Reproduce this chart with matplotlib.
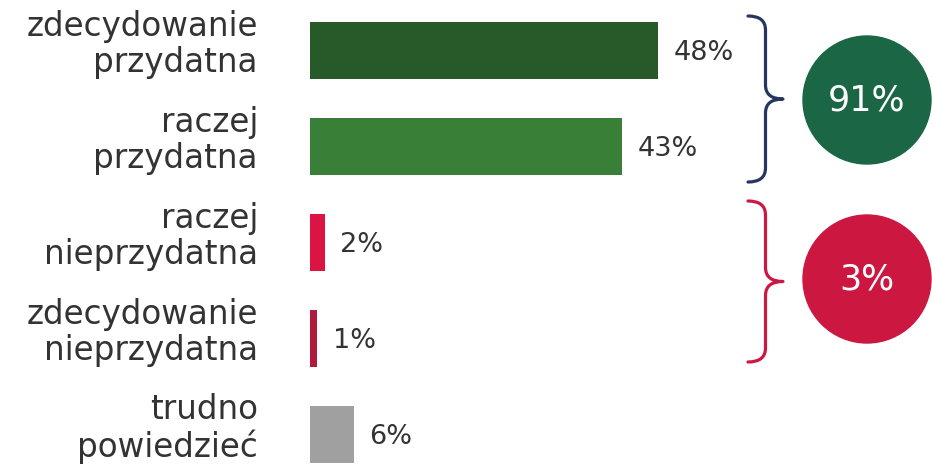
import matplotlib.pyplot as plt
from matplotlib.path import Path
from matplotlib.patches import PathPatch, Circle

# data
categories = ["zdecydowanie\nprzydatna", "raczej\nprzydatna", "raczej\nnieprzydatna",
              "zdecydowanie\nnieprzydatna", "trudno\npowiedzieć"]
values = [48, 43, 2, 1, 6]
bar_colors = ["#275a28", "#3a7f37", "#dc1443", "#b01a3c", "#a0a0a0"]
summary_labels = ["91%", "3%"]
summary_colors = ["#1a6645", "#cc1741"]
brace_colors = ["#253660", "#cc1741"]

plt.rcParams['font.family'] = ['DejaVu Sans']
text_color = "#333333"

W, H = 932, 473
fig = plt.figure(figsize=(W / 100, H / 100), dpi=100)

# bar axes: x=0 at pixel 310, 7.25 px per percent
px_per_pct = 7.25
ax = fig.add_axes([310 / W, 0, (W - 310) / W, 1])
ax.set_xlim(0, (W - 310) / px_per_pct)
ax.set_ylim((H - 50.5) / 96, -50.5 / 96)
ax.barh(range(len(values)), values, height=0.6, color=bar_colors)
for i, v in enumerate(values):
    ax.text(v + 2.2, i + 0.03, f"{v}%", va="center", ha="left", fontsize=19.5, color=text_color)
# category labels, right-aligned, slightly above bar centre
for i, c in enumerate(categories):
    ax.text(-52 / px_per_pct, i - 0.06, c, ha="right", va="center", fontsize=23.5,
            color=text_color, linespacing=1.12, clip_on=False)
ax.set_xticks([])
ax.set_yticks([])
for s in ax.spines.values():
    s.set_visible(False)

# overlay in pixel coordinates for braces and summary circles
ov = fig.add_axes([0, 0, 1, 1])
ov.set_xlim(0, W)
ov.set_ylim(H, 0)
ov.axis("off")


def brace(x0, y0, y1, depth, color):
    xm = x0 + depth * 0.5
    xt = x0 + depth
    ym = (y0 + y1) / 2
    r = 14
    verts = [(x0, y0), (xm, y0), (xm, y0 + r),
             (xm, ym - r),
             (xm, ym), (xt, ym),
             (xm, ym), (xm, ym + r),
             (xm, y1 - r),
             (xm, y1), (x0, y1)]
    codes = [Path.MOVETO, Path.CURVE3, Path.CURVE3,
             Path.LINETO,
             Path.CURVE3, Path.CURVE3,
             Path.CURVE3, Path.CURVE3,
             Path.LINETO,
             Path.CURVE3, Path.CURVE3]
    ov.add_patch(PathPatch(Path(verts, codes), fill=False, edgecolor=color,
                           lw=2.3, capstyle="round", joinstyle="round"))


brace(748, 16, 182, 35, brace_colors[0])
brace(748, 201, 362, 35, brace_colors[1])

for (cy, lab, col) in zip([100, 279], summary_labels, summary_colors):
    ov.add_patch(Circle((867, cy), 64, color=col))
    ov.text(867, cy, lab, color="white", fontsize=25, ha="center", va="center")

fig.savefig("out.png", dpi=100, facecolor="white")
